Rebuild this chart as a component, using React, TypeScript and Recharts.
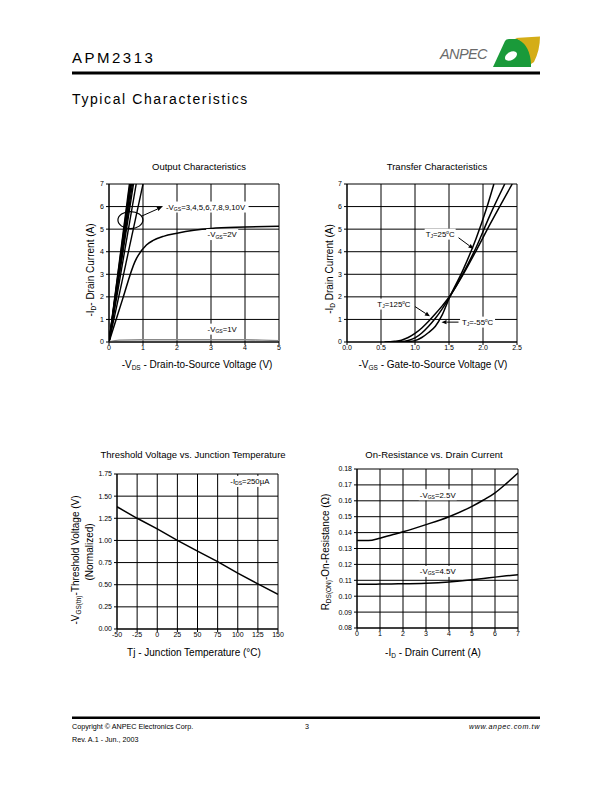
import React from 'react';
import { LineChart, Line, XAxis, YAxis, CartesianGrid, ReferenceDot, ReferenceLine } from 'recharts';

// ---------- Data ----------
// Output characteristics
const BUNDLE_VGS = [10, 9, 8, 7, 6, 5, 4, 3];
const BUNDLE_VDS_AT_7A = [0.6, 0.62, 0.64, 0.66, 0.69, 0.72, 0.8, 1.0];
const VGS2_X = [0, 0.4, 0.76, 1.1, 1.3, 1.6, 2.0, 2.5, 3.0, 4.0, 5.0];
const VGS2_Y = [0, 1.9, 3.55, 4.3, 4.5, 4.68, 4.82, 4.95, 5.03, 5.09, 5.13];
const VGS1_X = [0, 0.3, 1, 2, 3, 4, 4.5, 5];
const VGS1_Y = [0, 0.08, 0.1, 0.1, 0.1, 0.1, 0.08, 0.06];
const OUT_X_TICKS = [0, 1, 2, 3, 4, 5];
const OUT_Y_TICKS = [0, 1, 2, 3, 4, 5, 6, 7];

// Transfer characteristics
const T125_X = [0.55, 0.7, 0.8, 0.9, 1.0, 1.1, 1.2, 1.3, 1.4, 1.5, 1.7, 1.9, 2.1, 2.3, 2.43];
const T125_Y = [0, 0.03, 0.08, 0.2, 0.38, 0.62, 0.92, 1.25, 1.6, 1.98, 2.95, 4.05, 5.2, 6.3, 7.0];
const T25_X = [0.6, 0.8, 0.9, 1.0, 1.1, 1.2, 1.3, 1.4, 1.5, 1.7, 1.9, 2.1, 2.32];
const T25_Y = [0, 0.02, 0.07, 0.18, 0.4, 0.7, 1.05, 1.47, 1.95, 3.0, 4.2, 5.6, 7.0];
const TM55_X = [0.7, 0.9, 1.0, 1.1, 1.2, 1.3, 1.4, 1.5, 1.7, 1.9, 2.05, 2.16];
const TM55_Y = [0, 0.02, 0.06, 0.2, 0.42, 0.7, 1.2, 1.92, 3.15, 4.6, 5.9, 7.0];
const TR_X_TICKS = [0, 0.5, 1.0, 1.5, 2.0, 2.5];
const TR_Y_TICKS = [0, 1, 2, 3, 4, 5, 6, 7];

// Threshold voltage vs junction temperature
const TJ = [-50, -25, 0, 25, 50, 75, 100, 125, 150];
const VTH = [1.38, 1.25, 1.13, 1.0, 0.88, 0.76, 0.63, 0.51, 0.39];
const TH_X_TICKS = [-50, -25, 0, 25, 50, 75, 100, 125, 150];
const TH_Y_TICKS = [0, 0.25, 0.5, 0.75, 1.0, 1.25, 1.5, 1.75];

// On-resistance vs drain current
const ID_X = [0, 0.5, 1, 1.5, 2, 3, 4, 5, 5.5, 6, 6.5, 7];
const R25 = [0.135, 0.135, 0.1365, 0.1385, 0.1405, 0.145, 0.15, 0.1565, 0.1605, 0.165, 0.171, 0.1775];
const R45 = [0.1075, 0.1075, 0.1076, 0.1077, 0.1078, 0.1082, 0.109, 0.1103, 0.1111, 0.112, 0.1128, 0.1135];
const RD_X_TICKS = [0, 1, 2, 3, 4, 5, 6, 7];
const RD_Y_TICKS = [0.08, 0.09, 0.1, 0.11, 0.12, 0.13, 0.14, 0.15, 0.16, 0.17, 0.18];

const zip = (xs: number[], ys: number[]) => xs.map((x, i) => ({ x, y: ys[i] }));

// ---------- Styles ----------
const FONT = '"Liberation Sans", Arial, Helvetica, sans-serif';
const tickStyle = { fontSize: 7, fill: '#000', fontFamily: FONT };
const TAG = 7.8;

// ---------- Helpers ----------
type Part = string | { sub: string } | { sup: string };

const renderParts = (parts: Part[], size: number) => {
  const out: any[] = [];
  let shift = 0;
  parts.forEach((p, i) => {
    if (typeof p === 'string') {
      out.push(<tspan key={i} fontSize={size} dy={-shift}>{p}</tspan>);
      shift = 0;
    } else if ('sub' in p) {
      const d = size * 0.15;
      out.push(<tspan key={i} fontSize={size * 0.65} dy={d - shift}>{p.sub}</tspan>);
      shift = d;
    } else {
      const d = -size * 0.35;
      out.push(<tspan key={i} fontSize={size * 0.6} dy={d - shift}>{p.sup}</tspan>);
      shift = d;
    }
  });
  return out;
};

const tagShape = (parts: Part[], w: number, size = TAG) => (p: any) => {
  const cx = p.cx, cy = p.cy;
  if (cx == null || cy == null) return <g />;
  return (
    <g>
      <rect x={cx - w / 2} y={cy - 5.5} width={w} height={11} fill="#fff" />
      <text x={cx} y={cy + 2.8} textAnchor="middle" fontFamily={FONT} fill="#000">
        {renderParts(parts, size)}
      </text>
    </g>
  );
};

const ellipseShape = (rx: number, ry: number) => (p: any) => {
  if (p.cx == null) return <g />;
  return <ellipse cx={p.cx} cy={p.cy} rx={rx} ry={ry} fill="none" stroke="#000" strokeWidth={1.2} />;
};

const arrowShape = (p: any) => {
  const { x1, y1, x2, y2 } = p;
  if (x1 == null || x2 == null) return <g />;
  const a = Math.atan2(y2 - y1, x2 - x1);
  const L = 5, W = 2.2;
  const bx = x2 - L * Math.cos(a), by = y2 - L * Math.sin(a);
  const pts = [
    [x2, y2],
    [bx + W * Math.sin(a), by - W * Math.cos(a)],
    [bx - W * Math.sin(a), by + W * Math.cos(a)],
  ].map((q) => q.join(',')).join(' ');
  return (
    <g>
      <line x1={x1} y1={y1} x2={bx} y2={by} stroke="#000" strokeWidth={1} />
      <polygon points={pts} fill="#000" />
    </g>
  );
};

type PanelProps = {
  L: number; T: number; R: number; B: number;
  xDomain: [number, number]; xTicks: number[]; xFmt?: (v: number) => string;
  yDomain: [number, number]; yTicks: number[]; yFmt?: (v: number) => string;
  children: any;
};

const Panel = ({ L, T, R, B, xDomain, xTicks, xFmt, yDomain, yTicks, yFmt, children }: PanelProps) => {
  const ml = 10, yw = 30, mt = 12, mr = 12, xh = 20;
  const width = R - L + ml + yw + mr;
  const height = B - T + mt + xh;
  return (
    <div style={{ position: 'absolute', left: L - ml - yw, top: T - mt }}>
      <LineChart width={width} height={height} margin={{ top: mt, right: mr, left: ml, bottom: 0 }}>
        <CartesianGrid stroke="#000" strokeWidth={1} />
        <XAxis
          type="number" dataKey="x" domain={xDomain} ticks={xTicks} allowDataOverflow interval={0}
          height={xh} tick={tickStyle} tickSize={3} tickMargin={0}
          tickFormatter={xFmt} axisLine={{ stroke: '#000' }} tickLine={{ stroke: '#000' }}
        />
        <YAxis
          type="number" dataKey="y" domain={yDomain} ticks={yTicks} allowDataOverflow interval={0}
          width={yw} tick={tickStyle} tickSize={3} tickMargin={2}
          tickFormatter={yFmt} axisLine={{ stroke: '#000' }} tickLine={{ stroke: '#000' }}
        />
        {children}
      </LineChart>
    </div>
  );
};

const line = (key: string, data: any[], opts: any = {}) => (
  <Line
    key={key} data={data} dataKey="y" type={opts.type || 'monotone'} stroke={opts.stroke || '#000'}
    strokeWidth={opts.w || 1.5} dot={false} activeDot={false} isAnimationActive={false}
  />
);

const T = (props: any) => <text fontFamily={FONT} fill="#000" {...props} />;

export default function App() {
  return (
    <div style={{ position: 'absolute', left: 0, top: 0, width: 612, height: 792, background: '#fff', fontFamily: FONT }}>
      <svg width={612} height={792} style={{ position: 'absolute', left: 0, top: 0 }}>
        {/* Header */}
        <T x={72} y={63} fontSize={15} letterSpacing={2.5}>APM2313</T>
        <text x={440} y={59} fontFamily={FONT} fontSize={14.5} fontStyle="italic" fill="#6a6a6a" letterSpacing={-0.6}>ANPEC</text>
        <path d="M493,67 L505,41 Q506,39 509,39 L518,39 Q529,43 531,57 L531,67 Z" fill="#1a9a3a" />
        <path d="M515,38 L540,36.5 Q540,50 534,62 L531,64 Q530,46 519,40 Z" fill="#d4ad17" />
        <ellipse cx={511} cy={56} rx={6.5} ry={4} transform="rotate(-30 511 56)" fill="#fff" />
        <rect x={72} y={71.5} width={468} height={3} fill="#000" />
        <T x={72} y={104} fontSize={14} letterSpacing={1.6}>Typical Characteristics</T>

        {/* Chart titles */}
        <T x={199} y={169.5} fontSize={9.5} textAnchor="middle">Output Characteristics</T>
        <T x={437} y={169.5} fontSize={9.5} textAnchor="middle">Transfer Characteristics</T>
        <T x={193} y={458} fontSize={9.5} textAnchor="middle">Threshold Voltage vs. Junction Temperature</T>
        <T x={434} y={458} fontSize={9.5} textAnchor="middle">On-Resistance vs. Drain Current</T>

        {/* Axis labels */}
        <T x={197} y={368} fontSize={10} textAnchor="middle">
          {renderParts(['-V', { sub: 'DS' }, ' - Drain-to-Source Voltage (V)'], 10)}
        </T>
        <T x={0} y={0} fontSize={10} textAnchor="middle" transform="translate(94,270) rotate(-90)">
          {renderParts(['-I', { sub: 'D' }, '- Drain Current (A)'], 10)}
        </T>
        <T x={433} y={368} fontSize={10} textAnchor="middle">
          {renderParts(['-V', { sub: 'GS' }, ' - Gate-to-Source Voltage (V)'], 10)}
        </T>
        <T x={0} y={0} fontSize={10} textAnchor="middle" transform="translate(333,269) rotate(-90)">
          {renderParts(['-I', { sub: 'D' }, ' Drain Current (A)'], 10)}
        </T>
        <T x={194} y={656} fontSize={10} textAnchor="middle">Tj - Junction Temperature (°C)</T>
        <T x={0} y={0} fontSize={10} textAnchor="middle" transform="translate(79,560) rotate(-90)">
          {renderParts(['-V', { sub: 'GS(th)' }, '-Threshold Voltage (V)'], 10)}
        </T>
        <T x={0} y={0} fontSize={10} textAnchor="middle" transform="translate(93,552) rotate(-90)">(Normalized)</T>
        <T x={433} y={656} fontSize={10} textAnchor="middle">
          {renderParts(['-I', { sub: 'D' }, ' - Drain Current (A)'], 10)}
        </T>
        <T x={0} y={0} fontSize={10} textAnchor="middle" transform="translate(329,552) rotate(-90)">
          {renderParts(['R', { sub: 'DS(ON)' }, '-On-Resistance (Ω)'], 10)}
        </T>

        {/* Footer */}
        <rect x={72} y={716.5} width={468} height={2.5} fill="#000" />
        <T x={72} y={729} fontSize={7.2}>Copyright © ANPEC Electronics Corp.</T>
        <T x={305} y={729} fontSize={7.2}>3</T>
        <T x={540} y={729} fontSize={7.2} textAnchor="end" fontStyle="italic" letterSpacing={0.6}>www.anpec.com.tw</T>
        <T x={72} y={742} fontSize={7.2}>Rev. A.1 - Jun., 2003</T>
      </svg>

      {/* Output Characteristics */}
      <Panel L={109} T={184} R={279} B={342} xDomain={[0, 5]} xTicks={OUT_X_TICKS} yDomain={[0, 7]} yTicks={OUT_Y_TICKS}>
        {BUNDLE_VGS.map((v, i) => line('b' + v, [{ x: 0, y: 0 }, { x: BUNDLE_VDS_AT_7A[i], y: 7 }], { type: 'linear', w: 1.4 }))}
        {line('vgs2', zip(VGS2_X, VGS2_Y))}
        {line('vgs1', zip(VGS1_X, VGS1_Y), { stroke: '#888', w: 1.3 })}
        <ReferenceDot x={0.63} y={5.4} r={1} shape={ellipseShape(12.5, 8.5)} />
        <ReferenceLine segment={[{ x: 0.95, y: 5.57 }, { x: 1.56, y: 5.98 }]} shape={arrowShape} />
        <ReferenceDot x={2.84} y={5.98} r={1} shape={tagShape(['-V', { sub: 'GS' }, '=3,4,5,6,7,8,9,10V'], 86)} />
        <ReferenceDot x={3.33} y={4.76} r={1} shape={tagShape(['-V', { sub: 'GS' }, '=2V'], 32)} />
        <ReferenceDot x={3.33} y={0.57} r={1} shape={tagShape(['-V', { sub: 'GS' }, '=1V'], 32)} />
      </Panel>

      {/* Transfer Characteristics */}
      <Panel L={347} T={184} R={517} B={342} xDomain={[0, 2.5]} xTicks={TR_X_TICKS} xFmt={(v) => v.toFixed(1)} yDomain={[0, 7]} yTicks={TR_Y_TICKS}>
        {line('t125', zip(T125_X, T125_Y))}
        {line('t25', zip(T25_X, T25_Y))}
        {line('tm55', zip(TM55_X, TM55_Y))}
        <ReferenceLine segment={[{ x: 1.64, y: 4.62 }, { x: 1.86, y: 4.13 }]} shape={arrowShape} />
        <ReferenceLine segment={[{ x: 1.0, y: 1.57 }, { x: 1.22, y: 1.14 }]} shape={arrowShape} />
        <ReferenceLine segment={[{ x: 1.64, y: 0.88 }, { x: 1.39, y: 0.88 }]} shape={arrowShape} />
        <ReferenceDot x={1.37} y={4.78} r={1} shape={tagShape(['T', { sub: 'J' }, '=25', { sup: 'o' }, 'C'], 31)} />
        <ReferenceDot x={0.69} y={1.68} r={1} shape={tagShape(['T', { sub: 'J' }, '=125', { sup: 'o' }, 'C'], 37)} />
        <ReferenceDot x={1.92} y={0.88} r={1} shape={tagShape(['T', { sub: 'J' }, '=-55', { sup: 'o' }, 'C'], 35)} />
      </Panel>

      {/* Threshold Voltage vs. Junction Temperature */}
      <Panel L={117} T={474} R={278} B={629} xDomain={[-50, 150]} xTicks={TH_X_TICKS} yDomain={[0, 1.75]} yTicks={TH_Y_TICKS} yFmt={(v) => v.toFixed(2)}>
        {line('vth', zip(TJ, VTH), { type: 'linear' })}
        <ReferenceDot x={115} y={1.666} r={1} shape={tagShape(['-I', { sub: 'DS' }, '=250µA'], 42)} />
      </Panel>

      {/* On-Resistance vs. Drain Current */}
      <Panel L={357} T={469} R={518} B={628} xDomain={[0, 7]} xTicks={RD_X_TICKS} yDomain={[0.08, 0.18]} yTicks={RD_Y_TICKS} yFmt={(v) => v.toFixed(2)}>
        {line('r25', zip(ID_X, R25))}
        {line('r45', zip(ID_X, R45))}
        <ReferenceDot x={3.51} y={0.1638} r={1} shape={tagShape(['-V', { sub: 'GS' }, '=2.5V'], 38)} />
        <ReferenceDot x={3.51} y={0.1156} r={1} shape={tagShape(['-V', { sub: 'GS' }, '=4.5V'], 38)} />
      </Panel>
    </div>
  );
}
